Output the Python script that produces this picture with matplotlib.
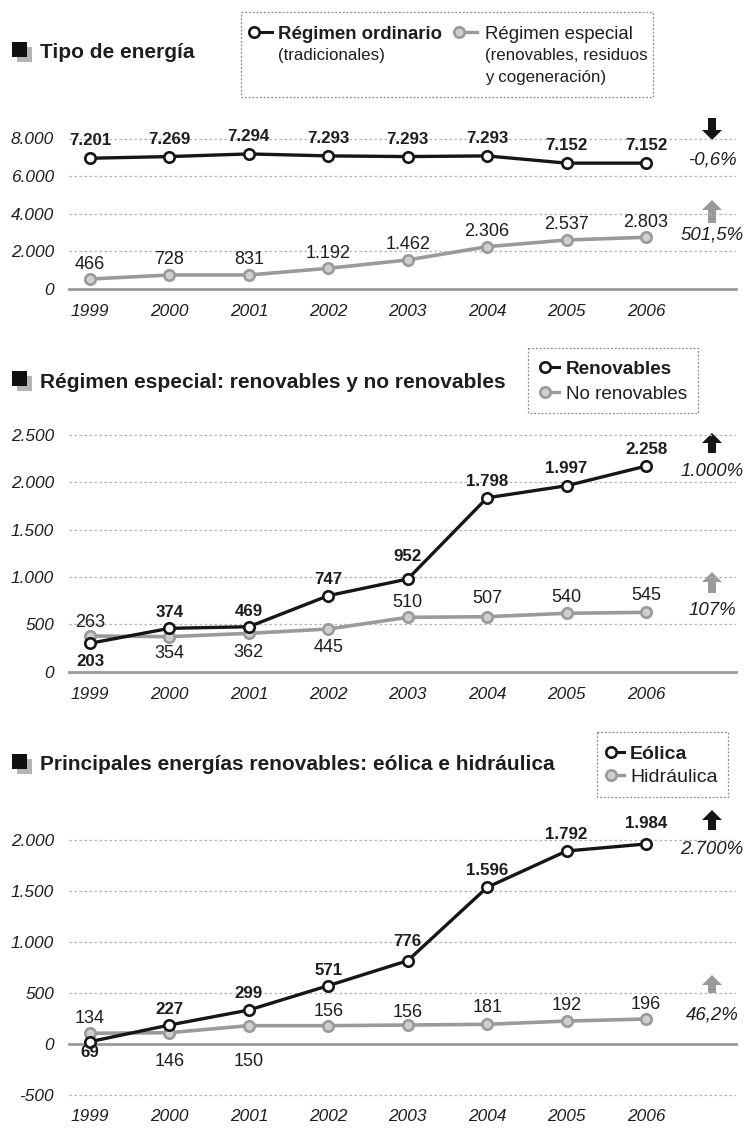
import matplotlib
matplotlib.use("Agg")
import matplotlib.pyplot as plt
from matplotlib import font_manager
from matplotlib.patches import Rectangle, FancyArrow

# figure geometry (pixels), dpi 100
W, H, DPI = 748, 1130, 100
PT = 72 / DPI

# ---- data -----------------------------------------------------------
years = [1999, 2000, 2001, 2002, 2003, 2004, 2005, 2006]

# panel 1: tipo de energia (labels as printed, positions as drawn)
ordinario_lbl = [7201, 7269, 7294, 7293, 7293, 7293, 7152, 7152]
ordinario_pos = [6950, 7040, 7180, 7075, 7040, 7075, 6690, 6690]
especial_lbl = [466, 728, 831, 1192, 1462, 2306, 2537, 2803]
especial_pos = [530, 745, 745, 1100, 1545, 2250, 2605, 2750]

# panel 2: renovables / no renovables
renov_lbl = [203, 374, 469, 747, 952, 1798, 1997, 2258]
renov_pos = [300, 458, 475, 803, 979, 1837, 1964, 2172]
norenov_lbl = [263, 354, 362, 445, 510, 507, 540, 545]
norenov_pos = [377, 370, 405, 451, 574, 581, 617, 627]

# panel 3: eolica / hidraulica
eolica_lbl = [69, 227, 299, 571, 776, 1596, 1792, 1984]
eolica_pos = [23, 186, 333, 572, 817, 1536, 1892, 1961]
hidra_lbl = [134, 146, 150, 156, 156, 181, 192, 196]
hidra_pos = [105, 111, 180, 180, 186, 193, 225, 245]

changes = ["-0,6%", "501,5%", "1.000%", "107%", "2.700%", "46,2%"]

# label offsets in pixels (+ above the point, - below)
off_ord = [19] * 8
off_esp = [17] * 8
off_ren = [-17, 17, 17, 18, 24, 18, 19, 18]
off_noren = [16, -15, -17, -17, 17, 20, 18, 19]
off_eol = [-9, 17, 18, 17, 21, 18, 18, 22]
off_hid = [17, -27, -34, 16, 15, 19, 18, 17]

# ---- style ----------------------------------------------------------
names = {f.name for f in font_manager.fontManager.ttflist}
if "Liberation Sans Narrow" in names:
    FONT, K = "Liberation Sans Narrow", 1.18
else:
    FONT, K = "Liberation Sans", 1.0
plt.rcParams["font.family"] = [FONT, "DejaVu Sans"]

DARK = "#161616"
GREY = "#9a9a9a"
GREY_FILL = "#cfcfcf"
GRID = "#b4b4b4"
TXT = "#1e1e1e"

AX_L, AX_R = 69, 736      # horizontal extent of plot area
X0, DX = 90, 79.43        # pixel of first year, spacing between years

FS_TICK = 12.4
FS_BOLD = 12.2
FS_REG = 13.0
FS_PCT = 13.4


def fmt(v):
    return f"{v:,}".replace(",", ".")


fig = plt.figure(figsize=(W / DPI, H / DPI), dpi=DPI)
fig.patch.set_facecolor("white")

ovl = fig.add_axes([0, 0, 1, 1])
ovl.set_xlim(0, W)
ovl.set_ylim(H, 0)
ovl.axis("off")


def otext(x, y, s, fs, **kw):
    # y is the visual centre of the capitals in pixels
    fs = fs * K
    ovl.text(x, y + 0.36 * fs / PT, s, fontsize=fs, va="baseline", color=TXT, **kw)


def make_panel(zero_px, ref_val, ref_px, ymin, ymax, ticks, year_off):
    ppu = (zero_px - ref_px) / ref_val
    bottom_px = zero_px - ymin * ppu
    top_px = zero_px - ymax * ppu
    ax = fig.add_axes([AX_L / W, 1 - bottom_px / H, (AX_R - AX_L) / W,
                       (bottom_px - top_px) / H])
    ax.set_facecolor("none")
    ax.set_xlim((AX_L - X0) / DX, (AX_R - X0) / DX)
    ax.set_ylim(ymin, ymax)
    for s in ax.spines.values():
        s.set_visible(False)
    ax.set_yticks(ticks)
    ax.set_yticklabels([fmt(t) for t in ticks], fontstyle="italic",
                       fontsize=FS_TICK * K, color=TXT)
    ax.tick_params(axis="y", length=0, pad=15 * PT)
    ax.set_xticks([])
    for t in ticks:
        if t == 0:
            ax.axhline(0, color=GREY, lw=2.0, zorder=1, clip_on=False)
        else:
            ax.axhline(t, color=GRID, lw=0.9, ls=(0, (2, 2)), zorder=0)
    for i, y in enumerate(years):
        fs = FS_TICK * K
        ax.annotate(str(y), xy=(i, 0), xytext=(0, -year_off * PT - 0.36 * fs),
                    textcoords="offset points", ha="center", va="baseline",
                    fontstyle="italic", fontsize=fs, color=TXT)
    return ax


def series(ax, pos, lbl, offs, dark):
    x = list(range(len(pos)))
    if dark:
        ax.plot(x, pos, color=DARK, lw=2.4, marker="o", ms=7.5, mfc="white",
                mec=DARK, mew=1.9, zorder=4, clip_on=False)
        fs, fw = FS_BOLD * K, "bold"
    else:
        ax.plot(x, pos, color=GREY, lw=2.6, marker="o", ms=7.5, mfc=GREY_FILL,
                mec=GREY, mew=1.9, zorder=3, clip_on=False)
        fs, fw = FS_REG * K, "normal"
    for i, (v, l, o) in enumerate(zip(pos, lbl, offs)):
        ax.annotate(fmt(l), xy=(i, v), xytext=(0, o * PT - 0.36 * fs),
                    textcoords="offset points", ha="center", va="baseline",
                    fontsize=fs, fontweight=fw, color=TXT, zorder=5)


def title(y, s):
    ovl.add_patch(Rectangle((17, y - 4.5), 15, 15, color="#b4b4b4", lw=0))
    ovl.add_patch(Rectangle((12, y - 9.5), 15, 15, color="#111111", lw=0))
    otext(40, y, s, 15.0, fontweight="bold")


def legend_key(x, y, dark, length=16):
    if dark:
        ovl.plot([x, x + length], [y, y], color=DARK, lw=2.2)
        ovl.plot([x], [y], marker="o", ms=7.5, mfc="white", mec=DARK, mew=1.9)
    else:
        ovl.plot([x, x + length], [y, y], color=GREY, lw=2.4)
        ovl.plot([x], [y], marker="o", ms=7.5, mfc=GREY_FILL, mec=GREY, mew=1.9)


def box(x, y, w, h):
    ovl.add_patch(Rectangle((x, y), w, h, fill=False, ec="#8a8a8a", lw=0.9,
                            ls=(0, (1.5, 1.5))))


def arrow(x, y_tail, y_tip, color):
    ovl.add_patch(FancyArrow(x, y_tail, 0, y_tip - y_tail, width=8,
                             head_width=20, head_length=10,
                             length_includes_head=True, color=color, lw=0))


# ---- panel 1 --------------------------------------------------------
title(51, "Tipo de energía")
box(241, 12, 412, 85)
legend_key(254, 32, True, 18)
otext(278, 32, "Régimen ordinario", 13.4, fontweight="bold")
otext(278, 54, "(tradicionales)", 12.2)
legend_key(459, 32, False, 18)
otext(485, 32, "Régimen especial", 13.4)
otext(485, 54, "(renovables, residuos", 12.2)
otext(485, 76, "y cogeneración)", 12.2)

ax1 = make_panel(289, 8000, 138.5, -150, 8300, [0, 2000, 4000, 6000, 8000], 21)
series(ax1, especial_pos, especial_lbl, off_esp, False)
series(ax1, ordinario_pos, ordinario_lbl, off_ord, True)
arrow(712, 118, 140, DARK)
otext(712, 158, changes[0], FS_PCT, fontstyle="italic", ha="center")
arrow(712, 223, 200, GREY)
otext(712, 233, changes[1], FS_PCT, fontstyle="italic", ha="center")

# ---- panel 2 --------------------------------------------------------
title(380, "Régimen especial: renovables y no renovables")
box(528, 348, 170, 65)
legend_key(545, 367, True, 14)
otext(566, 367, "Renovables", 13.6, fontweight="bold")
legend_key(545, 392, False, 14)
otext(566, 392, "No renovables", 13.6)

ax2 = make_panel(671.7, 2500, 435, -60, 2560, [0, 500, 1000, 1500, 2000, 2500], 21)
series(ax2, norenov_pos, norenov_lbl, off_noren, False)
series(ax2, renov_pos, renov_lbl, off_ren, True)
arrow(712, 453, 433, DARK)
otext(712, 469, changes[2], FS_PCT, fontstyle="italic", ha="center")
arrow(712, 593, 572, GREY)
otext(712, 608, changes[3], FS_PCT, fontstyle="italic", ha="center")

# ---- panel 3 --------------------------------------------------------
title(763, "Principales energías renovables: eólica e hidráulica")
box(597, 732, 131, 65)
legend_key(611, 752, True, 13)
otext(630, 752, "Eólica", 14.0, fontweight="bold")
legend_key(611, 775, False, 13)
otext(630, 775, "Hidráulica", 14.0)

ax3 = make_panel(1044, 2000, 840, -560, 2060, [-500, 0, 500, 1000, 1500, 2000], 71)
series(ax3, hidra_pos, hidra_lbl, off_hid, False)
series(ax3, eolica_pos, eolica_lbl, off_eol, True)
arrow(712, 830, 810, DARK)
otext(712, 847, changes[4], FS_PCT, fontstyle="italic", ha="center")
arrow(712, 993, 975, GREY)
otext(712, 1013, changes[5], FS_PCT, fontstyle="italic", ha="center")

fig.savefig("out.png", dpi=DPI)
